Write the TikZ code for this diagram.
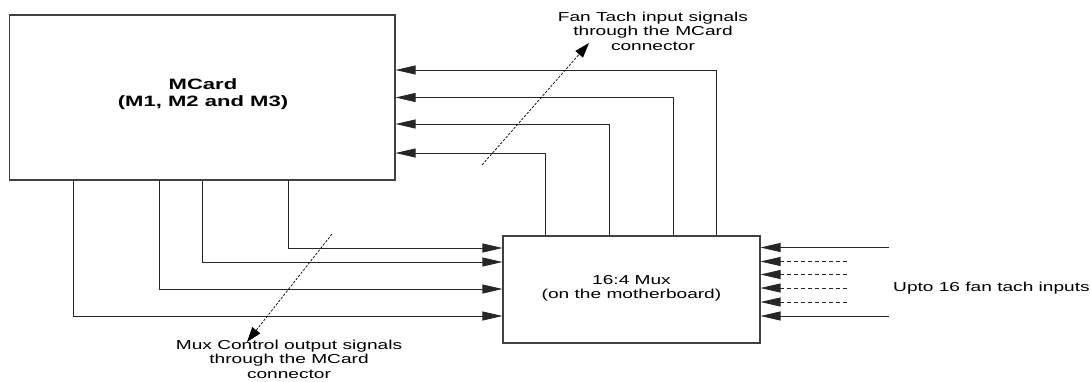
\documentclass[tikz,border=0pt]{standalone}
\usepackage{fontspec}
\setmainfont{Liberation Sans}[FakeStretch=1.47]
\usetikzlibrary{arrows.meta}
\tikzset{
  box/.style={draw=black!75, line width=1.1pt, inner sep=0pt},
  sig/.style={draw=black!85, line width=0.8pt, -{Triangle[length=20pt,width=9pt]}},
  sigdash/.style={sig, dash pattern=on 4pt off 3pt},
  note/.style={draw=black, line width=0.7pt, dash pattern=on 2.5pt off 1.5pt, -{Triangle[length=15pt,width=10pt]}},
  txt/.style={align=center, font=\fontsize{13}{14.5}\selectfont, inner sep=0pt},
  btxt/.style={align=center, font=\fontsize{15}{16.5}\selectfont\bfseries, inner sep=0pt}
}
\begin{document}
\begin{tikzpicture}[x=1pt,y=-1pt]
\useasboundingbox (0,0) rectangle (1091,381);
% blocks
\node[box, minimum width=385.5pt, minimum height=165pt] (mcard) at (202.25,97.5) {};
\node[btxt] (mcardtext) at (203,94) {MCard\\(M1, M2 and M3)};
\node[box, minimum width=257pt, minimum height=107pt] (mux) at (631.5,289.5) {};
\node[txt] (muxtext) at (631.5,288.5) {16:4 Mux\\(on the motherboard)};
% Mux -> MCard (fan tach signals)
\draw[sig] ([xshift=43pt]mux.north west) |- (mcard.east |- 0,153);
\draw[sig] ([xshift=107pt]mux.north west) |- (mcard.east |- 0,124);
\draw[sig] ([xshift=171pt]mux.north west) |- (mcard.east |- 0,97.5);
\draw[sig] ([xshift=214pt]mux.north west) |- (mcard.east |- 0,70);
% MCard -> Mux (mux control)
\draw[sig] ([xshift=279.5pt]mcard.south west) |- (mux.west |- 0,248);
\draw[sig] ([xshift=193.5pt]mcard.south west) |- (mux.west |- 0,262);
\draw[sig] ([xshift=150.5pt]mcard.south west) |- (mux.west |- 0,289);
\draw[sig] ([xshift=64.5pt]mcard.south west) |- (mux.west |- 0,316);
% fan tach inputs
\coordinate (in1) at (889,247.5);
\coordinate (in2) at (847,261.5);
\coordinate (in3) at (847,274.5);
\coordinate (in4) at (847,288);
\coordinate (in5) at (847,302);
\coordinate (in6) at (889,316);
\draw[sig] (in1) -- (mux.east |- in1);
\draw[sigdash] (in2) -- (mux.east |- in2);
\draw[sigdash] (in3) -- (mux.east |- in3);
\draw[sigdash] (in4) -- (mux.east |- in4);
\draw[sigdash] (in5) -- (mux.east |- in5);
\draw[sig] (in6) -- (mux.east |- in6);
\node[txt, anchor=west] (upto) at (893,288) {Upto 16 fan tach inputs};
% annotations
\node[txt] (fantext) at (653,31) {Fan Tach input signals\\through the MCard\\connector};
\coordinate (fs) at (482,165);
\coordinate (fe) at (589,43);
\draw[note] (fs) -- (fe);
\node[txt] (mctext) at (289,359) {Mux Control output signals\\through the MCard\\connector};
\coordinate (ms) at (332,234);
\coordinate (me) at (247,342);
\draw[note] (ms) -- (me);
\end{tikzpicture}
\end{document}
